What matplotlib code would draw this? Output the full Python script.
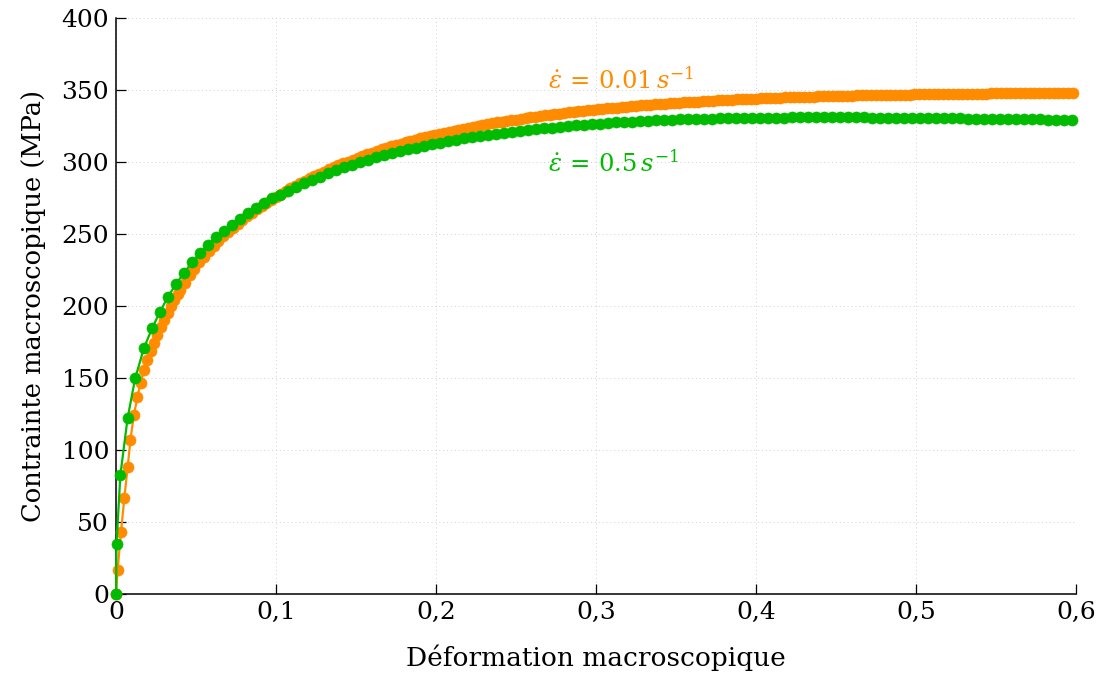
import matplotlib
matplotlib.use("Agg")
import matplotlib.pyplot as plt

# strain rate 0.01 s^-1 (orange)
STRAIN_SLOW = [
    0.0, 0.001, 0.0031, 0.0052, 0.0073, 0.009, 0.0111, 0.0133, 0.0154, 0.0175,
    0.0196, 0.0217, 0.0238, 0.0259, 0.028, 0.0301, 0.0322, 0.0343, 0.0364, 0.0385,
    0.040, 0.043, 0.046, 0.049, 0.052, 0.055, 0.058, 0.061, 0.064, 0.067,
    0.070, 0.073, 0.076, 0.079, 0.082, 0.085, 0.088, 0.091, 0.094, 0.097,
    0.100, 0.103, 0.106, 0.109, 0.112, 0.115, 0.118, 0.121, 0.124, 0.127,
    0.130, 0.133, 0.136, 0.139, 0.142, 0.145, 0.148, 0.151, 0.154, 0.157,
    0.160, 0.163, 0.166, 0.169, 0.172, 0.175, 0.178, 0.181, 0.184, 0.187,
    0.190, 0.193, 0.196, 0.199, 0.202, 0.205, 0.208, 0.211, 0.214, 0.217,
    0.220, 0.223, 0.226, 0.229, 0.232, 0.235, 0.238, 0.241, 0.244, 0.247,
    0.250, 0.253, 0.256, 0.259, 0.262, 0.265, 0.268, 0.271, 0.274, 0.277,
    0.280, 0.283, 0.286, 0.289, 0.292, 0.295, 0.298, 0.301, 0.304, 0.307,
    0.310, 0.313, 0.316, 0.319, 0.322, 0.325, 0.328, 0.331, 0.334, 0.337,
    0.340, 0.343, 0.346, 0.349, 0.352, 0.355, 0.358, 0.361, 0.364, 0.367,
    0.370, 0.373, 0.376, 0.379, 0.382, 0.385, 0.388, 0.391, 0.394, 0.397,
    0.400, 0.403, 0.406, 0.409, 0.412, 0.415, 0.418, 0.421, 0.424, 0.427,
    0.430, 0.433, 0.436, 0.439, 0.442, 0.445, 0.448, 0.451, 0.454, 0.457,
    0.460, 0.463, 0.466, 0.469, 0.472, 0.475, 0.478, 0.481, 0.484, 0.487,
    0.490, 0.493, 0.496, 0.499, 0.502, 0.505, 0.508, 0.511, 0.514, 0.517,
    0.520, 0.523, 0.526, 0.529, 0.532, 0.535, 0.538, 0.541, 0.544, 0.547,
    0.550, 0.553, 0.556, 0.559, 0.562, 0.565, 0.568, 0.571, 0.574, 0.577,
    0.580, 0.583, 0.586, 0.589, 0.592, 0.595, 0.598,
]
STRESS_SLOW = [
    0.0, 17.0, 43.0, 67.0, 88.5, 107.0, 124.0, 136.5, 146.7, 155.5,
    162.5, 168.7, 174.5, 179.9, 185.1, 190.2, 195.2, 199.8, 203.9, 208.0,
    210.8, 216.2, 221.3, 226.0, 230.3, 234.3, 238.1, 241.8, 245.2, 248.4,
    251.4, 254.3, 257.0, 259.7, 262.2, 264.7, 267.1, 269.4, 271.7, 273.9,
    276.0, 278.0, 279.9, 281.8, 283.6, 285.3, 287.0, 288.6, 290.2, 291.8,
    293.3, 294.8, 296.2, 297.6, 299.0, 300.3, 301.6, 302.9, 304.1, 305.3,
    306.5, 307.6, 308.7, 309.8, 310.8, 311.8, 312.8, 313.7, 314.6, 315.5,
    316.4, 317.2, 318.0, 318.8, 319.6, 320.4, 321.1, 321.8, 322.5, 323.2,
    323.8, 324.5, 325.1, 325.7, 326.3, 326.9, 327.5, 328.0, 328.5, 329.0,
    329.5, 330.0, 330.5, 331.0, 331.5, 332.0, 332.4, 332.8, 333.2, 333.6,
    334.0, 334.4, 334.8, 335.2, 335.6, 336.0, 336.3, 336.6, 336.9, 337.2,
    337.5, 337.8, 338.1, 338.4, 338.7, 339.0, 339.3, 339.6, 339.9, 340.2,
    340.4, 340.6, 340.8, 341.0, 341.2, 341.4, 341.6, 341.8, 342.0, 342.2,
    342.4, 342.6, 342.8, 343.0, 343.2, 343.3, 343.5, 343.6, 343.8, 343.9,
    344.0, 344.2, 344.3, 344.4, 344.6, 344.7, 344.8, 344.9, 345.0, 345.1,
    345.2, 345.3, 345.4, 345.5, 345.6, 345.7, 345.8, 345.9, 345.9, 346.0,
    346.1, 346.2, 346.2, 346.3, 346.4, 346.4, 346.5, 346.6, 346.6, 346.7,
    346.7, 346.8, 346.8, 346.9, 346.9, 347.0, 347.0, 347.1, 347.1, 347.2,
    347.2, 347.2, 347.3, 347.3, 347.4, 347.4, 347.4, 347.5, 347.5, 347.6,
    347.6, 347.6, 347.7, 347.7, 347.7, 347.8, 347.8, 347.8, 347.9, 347.9,
    347.9, 348.0, 348.0, 348.0, 348.1, 348.1, 348.1,
]

# strain rate 0.5 s^-1 (green)
STRAIN_FAST = [
    0.0, 0.0003, 0.0027, 0.0072, 0.012, 0.0175, 0.0225, 0.0275, 0.0325, 0.0375,
    0.0425, 0.0475, 0.0525, 0.0575, 0.0625, 0.0675, 0.0725, 0.0775, 0.0825, 0.0875,
    0.0925, 0.0975, 0.1025, 0.1075, 0.1125, 0.1175, 0.1225, 0.1275, 0.1325, 0.1375,
    0.1425, 0.1475, 0.1525, 0.1575, 0.1625, 0.1675, 0.1725, 0.1775, 0.1825, 0.1875,
    0.1925, 0.1975, 0.2025, 0.2075, 0.2125, 0.2175, 0.2225, 0.2275, 0.2325, 0.2375,
    0.2425, 0.2475, 0.2525, 0.2575, 0.2625, 0.2675, 0.2725, 0.2775, 0.2825, 0.2875,
    0.2925, 0.2975, 0.3025, 0.3075, 0.3125, 0.3175, 0.3225, 0.3275, 0.3325, 0.3375,
    0.3425, 0.3475, 0.3525, 0.3575, 0.3625, 0.3675, 0.3725, 0.3775, 0.3825, 0.3875,
    0.3925, 0.3975, 0.4025, 0.4075, 0.4125, 0.4175, 0.4225, 0.4275, 0.4325, 0.4375,
    0.4425, 0.4475, 0.4525, 0.4575, 0.4625, 0.4675, 0.4725, 0.4775, 0.4825, 0.4875,
    0.4925, 0.4975, 0.5025, 0.5075, 0.5125, 0.5175, 0.5225, 0.5275, 0.5325, 0.5375,
    0.5425, 0.5475, 0.5525, 0.5575, 0.5625, 0.5675, 0.5725, 0.5775, 0.5825, 0.5875,
    0.5925, 0.5975,
]
STRESS_FAST = [
    0.0, 35.0, 82.5, 122.0, 150.0, 171.0, 184.5, 196.0, 206.5, 215.3,
    223.0, 230.3, 237.0, 242.7, 247.8, 252.3, 256.5, 260.6, 264.5, 268.2,
    271.6, 274.7, 277.4, 280.1, 282.7, 285.2, 287.6, 289.9, 292.1, 294.2,
    296.2, 298.1, 299.9, 301.6, 303.2, 304.7, 306.1, 307.5, 308.8, 310.0,
    311.2, 312.3, 313.4, 314.5, 315.5, 316.4, 317.2, 318.0, 318.7, 319.4,
    320.1, 320.7, 321.4, 322.1, 322.7, 323.3, 323.9, 324.4, 324.9, 325.4,
    325.9, 326.3, 326.7, 327.1, 327.5, 327.8, 328.1, 328.4, 328.7, 329.0,
    329.2, 329.4, 329.6, 329.8, 330.0, 330.1, 330.2, 330.3, 330.4, 330.5,
    330.6, 330.7, 330.8, 330.8, 330.9, 330.9, 331.0, 331.0, 331.1, 331.1,
    331.1, 331.1, 331.1, 331.1, 331.0, 331.0, 330.9, 330.9, 330.8, 330.8,
    330.7, 330.7, 330.6, 330.5, 330.5, 330.4, 330.3, 330.3, 330.2, 330.1,
    330.1, 330.0, 329.9, 329.9, 329.8, 329.7, 329.7, 329.6, 329.5, 329.5,
    329.4, 329.4,
]

X_TICKS = [0, 0.1, 0.2, 0.3, 0.4, 0.5, 0.6]
X_TICK_LABELS = ["0", "0,1", "0,2", "0,3", "0,4", "0,5", "0,6"]
Y_TICKS = [0, 50, 100, 150, 200, 250, 300, 350, 400]

ORANGE = "#ff8c00"
GREEN = "#00bb00"

plt.rcParams["font.family"] = "DejaVu Serif"
plt.rcParams["mathtext.fontset"] = "dejavuserif"

fig = plt.figure(figsize=(11.02, 6.77), dpi=100)
ax = fig.add_axes([0.1053, 0.1226, 0.8711, 0.8508])

ax.plot(STRAIN_SLOW, STRESS_SLOW, color=ORANGE, lw=1.6, marker="o", ms=8.0,
        mew=0.4, clip_on=False, zorder=3)
ax.plot(STRAIN_FAST, STRESS_FAST, color=GREEN, lw=1.6, marker="o", ms=8.0,
        mew=0.4, clip_on=False, zorder=4)

ax.text(0.27, 357, r"$\dot{\varepsilon}\, =\, 0.01\,s^{-1}$", color=ORANGE,
        fontsize=17.5, ha="left", va="center")
ax.text(0.27, 299, r"$\dot{\varepsilon}\, =\, 0.5\,s^{-1}$", color=GREEN,
        fontsize=17.5, ha="left", va="center")

ax.set_xlim(0, 0.6)
ax.set_ylim(0, 400)
ax.set_xticks(X_TICKS)
ax.set_xticklabels(X_TICK_LABELS)
ax.set_yticks(Y_TICKS)
ax.grid(True, color="#d0d0d0", linestyle=(0, (1, 3)), linewidth=0.7)
ax.set_axisbelow(True)
for side in ["top", "right"]:
    ax.spines[side].set_visible(False)
for side in ["left", "bottom"]:
    ax.spines[side].set_linewidth(1.1)
ax.tick_params(direction="in", length=7, width=0.9, labelsize=18, pad=5)

ax.set_xlabel("Déformation macroscopique", fontsize=19, labelpad=15)
ax.set_ylabel("Contrainte macroscopique (MPa)", fontsize=18.5, labelpad=11)

fig.savefig("out.png", dpi=100)
